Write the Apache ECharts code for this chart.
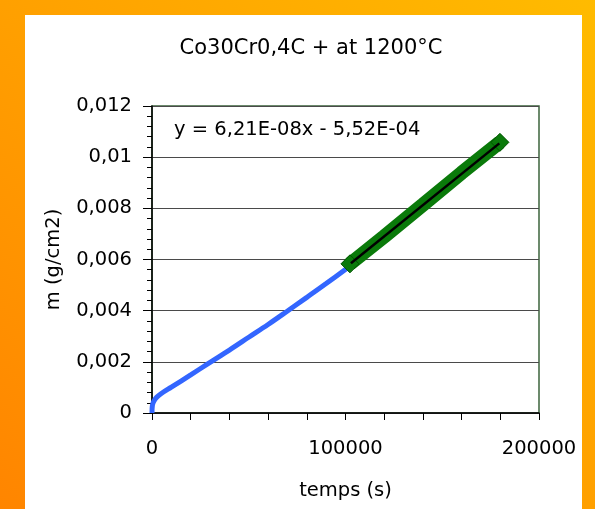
<!DOCTYPE html>
<html>
<head>
<meta charset="utf-8">
<script src="https://cdn.jsdelivr.net/npm/echarts@6/dist/echarts.min.js"></script>
<style>
  html, body { margin: 0; padding: 0; }
  body {
    width: 595px; height: 509px; position: relative; overflow: hidden;
    background: linear-gradient(to top right, #ff8500, #ffbb00);
  }
  #panel { position: absolute; left: 25px; top: 15px; width: 557px; height: 494px; background: #fff; }
  #chart { position: absolute; left: 0; top: 0; width: 595px; height: 509px; }
</style>
</head>
<body>
<div id="panel"></div>
<div id="chart"></div>
<script>
var tempsMesure = [0, 200, 1000, 2500, 5000, 10000, 20000, 29000, 40000, 50000, 60000, 69500, 80000, 90000, 101500];
var masseMesure = [0, 0.00030, 0.00047, 0.00062, 0.00077, 0.00101, 0.00149, 0.00193, 0.00246, 0.00296, 0.00346, 0.00396, 0.00452, 0.00506, 0.00570];
// partie lineaire (points verts)
var tempsLin = [102300, 120000, 140000, 160000, 179800];
var masseLin = [0.00583, 0.00690, 0.00814, 0.00939, 0.01058];
// droite de regression
var tempsFit = [102800, 179500];
var masseFit = [0.00585, 0.01054];
var equation = 'y = 6,21E-08x - 5,52E-04';
var titre = 'Co30Cr0,4C + at 1200°C';

var font = 'DejaVu Sans';

function pairs(xs, ys) {
  var out = [];
  for (var i = 0; i < xs.length; i++) out.push([xs[i], ys[i]]);
  return out;
}

var linData = pairs(tempsLin, masseLin).map(function(p, i, arr) {
  return { value: p, symbol: (i === 0 || i === arr.length - 1) ? 'diamond' : 'none' };
});

var chart = echarts.init(document.getElementById('chart'));
var option = {
  animation: false,
  title: {
    text: titre,
    left: 306, top: 33,
    textAlign: 'center',
    textStyle: { fontFamily: font, fontSize: 21, fontWeight: 'normal', color: '#000' }
  },
  grid: {
    left: 152, top: 106, right: 56, bottom: 96,
    show: true, borderColor: '#3d643d', borderWidth: 1.5, backgroundColor: 'transparent'
  },
  xAxis: {
    type: 'value', min: 0, max: 200000, interval: 100000,
    name: 'temps (s)', nameLocation: 'middle', nameGap: 68,
    nameTextStyle: { fontFamily: font, fontSize: 19.5, color: '#000' },
    axisLine: { onZero: false, lineStyle: { color: '#000', width: 1.5 } },
    axisTick: { length: 7, lineStyle: { color: '#000' } },
    minorTick: { show: true, splitNumber: 5, length: 7, lineStyle: { color: '#000' } },
    axisLabel: {
      margin: 26, fontFamily: font, fontSize: 19.5, color: '#000',
      formatter: function(v) { return String(v); }
    },
    splitLine: { show: false }
  },
  yAxis: {
    type: 'value', min: 0, max: 0.012, interval: 0.002,
    name: 'm (g/cm2)', nameLocation: 'middle', nameGap: 88, nameRotate: 90,
    nameTextStyle: { fontFamily: font, fontSize: 19.5, color: '#000' },
    axisLine: { onZero: false, lineStyle: { color: '#000', width: 1.5 } },
    axisTick: { length: 9, lineStyle: { color: '#000' } },
    minorTick: { show: true, splitNumber: 5, length: 5, lineStyle: { color: '#000' } },
    axisLabel: {
      margin: 20, fontFamily: font, fontSize: 19.5, color: '#000',
      formatter: function(v) { return String(+v.toFixed(3)).replace('.', ','); }
    },
    splitLine: { lineStyle: { color: '#4a4a4a', width: 1.2 } }
  },
  graphic: [{
    type: 'text', left: 174, top: 120,
    style: { text: equation, font: '19.5px "DejaVu Sans"', fill: '#000' }
  }],
  series: [{
    name: 'mesure',
    type: 'line',
    data: pairs(tempsMesure, masseMesure),
    smooth: 0.35,
    showSymbol: false,
    lineStyle: { color: '#3366ff', width: 5 },
    z: 3
  }, {
    name: 'lineaire',
    type: 'line',
    data: linData,
    symbolSize: 18,
    itemStyle: { color: '#0a7a0a', borderColor: '#005500', borderWidth: 1 },
    lineStyle: { color: '#0a7a0a', width: 14 },
    z: 4
  }, {
    name: 'fit',
    type: 'line',
    data: pairs(tempsFit, masseFit),
    showSymbol: false,
    lineStyle: { color: '#000', width: 2.5 },
    z: 5
  }]
};
chart.setOption(option);
</script>
</body>
</html>
